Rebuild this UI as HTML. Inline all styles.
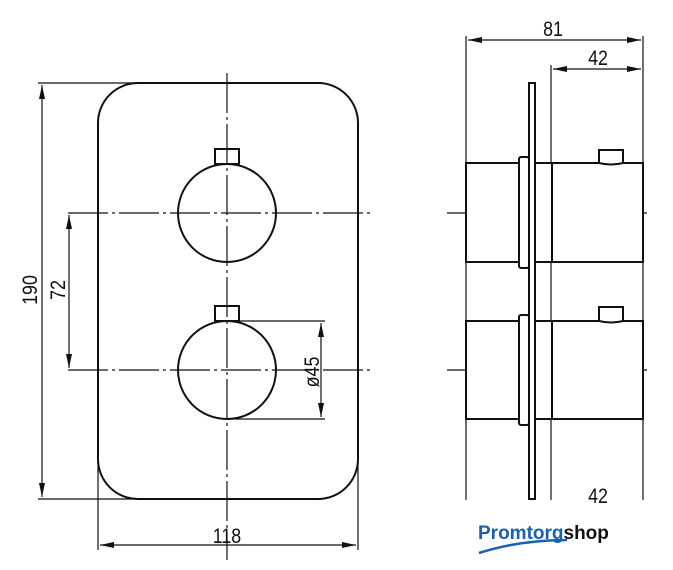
<!DOCTYPE html>
<html><head><style>body{margin:0;background:#fff}svg{display:block}text{font-family:"Liberation Sans",sans-serif;fill:#111}</style></head><body>
<svg width="673" height="570" viewBox="0 0 673 570" xmlns="http://www.w3.org/2000/svg">
<defs><marker id="a" viewBox="0 0 14 6" refX="14" refY="3" markerWidth="14" markerHeight="6" markerUnits="userSpaceOnUse" orient="auto-start-reverse"><path d="M0,0L14,3L0,6z" fill="#111"/></marker></defs>
<g stroke="#111" fill="none" stroke-width="2">
<rect x="98" y="83" width="260" height="416" rx="40"/>
<circle cx="227" cy="213" r="49"/><circle cx="227" cy="370" r="49"/>
<rect x="215" y="149" width="24" height="15"/><rect x="215" y="306" width="24" height="15"/>
</g>
<g stroke="#111" stroke-width="1.2" fill="none">
<line x1="227" y1="73" x2="227" y2="560" stroke-dasharray="40,4,3,4"/>
<line x1="68" y1="213" x2="370" y2="213" stroke-dasharray="40,4,3,4"/>
<line x1="68" y1="370" x2="370" y2="370" stroke-dasharray="40,4,3,4"/>
<line x1="38" y1="83" x2="140" y2="83"/><line x1="38" y1="499" x2="140" y2="499"/>
<line x1="42" y1="85" x2="42" y2="497" marker-start="url(#a)" marker-end="url(#a)"/>
<line x1="69" y1="215" x2="69" y2="368" marker-start="url(#a)" marker-end="url(#a)"/>
<line x1="227" y1="321" x2="325" y2="321"/><line x1="227" y1="419" x2="325" y2="419"/>
<line x1="321" y1="323" x2="321" y2="417" marker-start="url(#a)" marker-end="url(#a)"/>
<line x1="98" y1="460" x2="98" y2="550"/><line x1="358" y1="460" x2="358" y2="550"/>
<line x1="100" y1="545" x2="356" y2="545" marker-start="url(#a)" marker-end="url(#a)"/>
<line x1="466" y1="36" x2="466" y2="500"/><line x1="643" y1="36" x2="643" y2="500"/>
<line x1="551" y1="65" x2="551" y2="500"/>
<line x1="468" y1="40" x2="641" y2="40" marker-start="url(#a)" marker-end="url(#a)"/>
<line x1="553" y1="69" x2="641" y2="69" marker-start="url(#a)" marker-end="url(#a)"/>
<line x1="447" y1="213" x2="650" y2="213" stroke-dasharray="40,4,3,4"/>
<line x1="447" y1="370" x2="650" y2="370" stroke-dasharray="40,4,3,4"/>
</g>
<g stroke="#111" stroke-width="2" fill="#fff">
<rect x="466" y="163" width="177" height="99"/><rect x="466" y="321" width="177" height="98"/>
<line x1="552" y1="163" x2="552" y2="262"/><line x1="552" y1="321" x2="552" y2="419"/>
<rect x="519" y="157" width="10" height="111" rx="2"/><rect x="519" y="315" width="10" height="110" rx="2"/>
<rect x="529" y="83" width="6" height="416"/>
<path d="M599,163V150H623V163Q611,166 599,163Z"/><path d="M599,321V307H623V321Q611,324 599,321Z"/>
</g>
<g font-size="21">
<text transform="translate(37 290) rotate(-90) scale(0.85 1)" text-anchor="middle">190</text>
<text transform="translate(65 290) rotate(-90) scale(0.85 1)" text-anchor="middle">72</text>
<text transform="translate(319 372) rotate(-90) scale(0.85 1)" text-anchor="middle">ø45</text>
<text transform="translate(227 543) scale(0.85 1)" text-anchor="middle">118</text>
<text transform="translate(553 36) scale(0.85 1)" text-anchor="middle">81</text>
<text transform="translate(598 65) scale(0.85 1)" text-anchor="middle">42</text>
<text transform="translate(598 503) scale(0.85 1)" text-anchor="middle">42</text>
</g>
<rect x="450" y="505" width="220" height="60" fill="#fff"/>
<text x="478" y="539" font-size="19" font-weight="bold" style="fill:#1a5fb4">Promtorg<tspan style="fill:#111">shop</tspan></text>
<path d="M479,553Q520,540 567,540" stroke="#1a5fb4" stroke-width="2.5" fill="none"/>
</svg>
</body></html>
